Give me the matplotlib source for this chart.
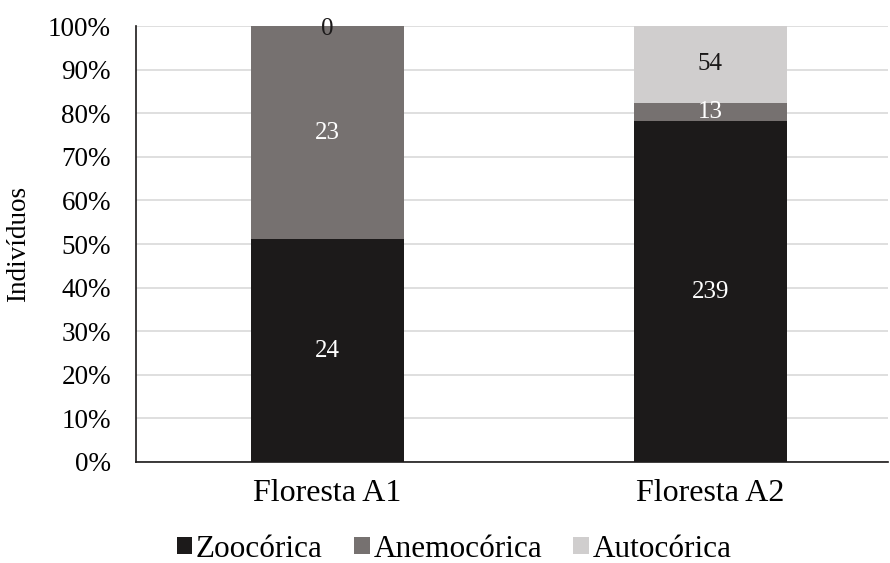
import matplotlib
matplotlib.use('Agg')
import matplotlib.pyplot as plt
import numpy as np

plt.rcParams['font.family'] = ['Liberation Serif', 'DejaVu Serif']

categorias = ['Floresta A1', 'Floresta A2']
series = ['Zoocórica', 'Anemocórica', 'Autocórica']
zoocorica = [24, 239]
anemocorica = [23, 13]
autocorica = [0, 54]
cores = ['#1c1a1a', '#767170', '#d0cece']
cores_texto = ['white', 'white', '#1c1a1a']

valores = np.array([zoocorica, anemocorica, autocorica], dtype=float)
totais = valores.sum(axis=0)
pct = valores / totais * 100

fig = plt.figure(figsize=(8.9, 5.63), dpi=100)
ax = fig.add_axes([0.1528, 0.1794, 0.8452, 0.7744])

x = np.arange(len(categorias))
base = np.zeros(len(categorias))
for i, nome in enumerate(series):
    ax.bar(x, pct[i], 0.40, bottom=base, color=cores[i], label=nome, zorder=2)
    for j in range(len(categorias)):
        yc = base[j] + pct[i][j] / 2
        cor = cores_texto[i]
        if valores[i][j] == 0:
            cor = '#1c1a1a'
            yc = base[j] - 0.8
        ax.text(x[j], yc, str(int(valores[i][j])), ha='center', va='center',
                fontsize=18, color=cor, zorder=3)
    base = base + pct[i]

ax.set_xlim(-0.5, 1.465)
ax.set_ylim(0, 100)
ax.set_yticks(np.arange(0, 101, 10))
ax.set_yticklabels([f'{v}%' for v in range(0, 101, 10)])
ax.set_xticks(x)
ax.set_xticklabels(categorias)
ax.tick_params(axis='y', length=0, labelsize=19.5, pad=18)
ax.tick_params(axis='x', length=0, labelsize=23, pad=12)
ax.yaxis.grid(True, color='#d9d9d9', linewidth=1.2, zorder=0)
ax.set_axisbelow(True)
for s in ['top', 'right']:
    ax.spines[s].set_visible(False)
ax.spines['left'].set_color('#1c1a1a')
ax.spines['bottom'].set_color('#1c1a1a')
ax.spines['left'].set_linewidth(1.2)
ax.spines['bottom'].set_linewidth(1.2)
ax.set_ylabel('Indivíduos', fontsize=19.5, labelpad=12)

ax.legend(loc='upper center', bbox_to_anchor=(0.423, -0.12), ncol=3, frameon=False,
          fontsize=22.5, handlelength=0.5, handleheight=0.5, handletextpad=0.12,
          columnspacing=1.0, borderpad=0.15)

fig.savefig('out.png', dpi=100)
